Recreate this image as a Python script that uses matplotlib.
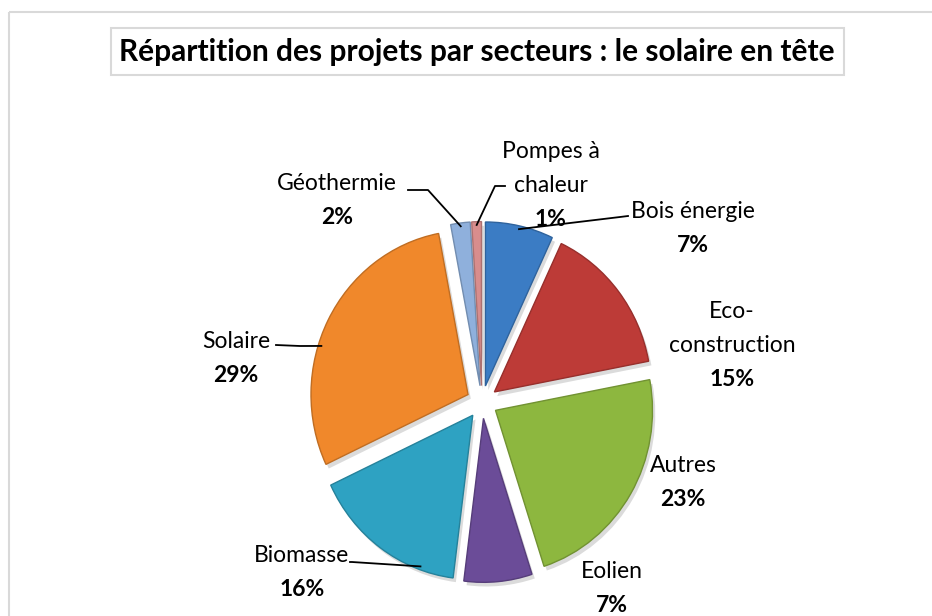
import matplotlib
matplotlib.use("Agg")
import numpy as np
import matplotlib.pyplot as plt
from matplotlib.colors import to_rgb
from matplotlib.patches import Rectangle
import matplotlib.patheffects as pe

plt.rcParams["font.family"] = ["Lato", "DejaVu Sans"]

# data (clockwise from 12 o'clock)
sectors = ["Bois énergie", "Eco-\nconstruction", "Autres", "Eolien",
           "Biomasse", "Solaire", "Géothermie", "Pompes à\nchaleur"]
shares = [7, 15, 23, 7, 16, 29, 2, 1]
colors = ["#3b7cc4", "#bd3b37", "#8db73f", "#6b4c98",
          "#2ea2c2", "#f0882b", "#8fb0dc", "#d88d8d"]

# label layout (pixel positions of label block centres) and leaders
label_pos = [(693, 228), (732, 345), (683, 482), (612, 589),
             (302, 573), (236, 358), (337, 200), (551, 185)]
# where on the wedge the leader starts (0..1 across the wedge) and its elbow/end
leader_t = [0.5, None, None, None, 0.78, 0.59, 0.5, 0.5]
leaders = [((620, 217), (628, 216)), None, None, None,
           ((352, 562), (350, 562)), ((300, 346), (276, 345)),
           ((428, 190), (408, 190)), ((495, 186), (505, 186))]

W, H = 932, 616
fig = plt.figure(figsize=(W / 100, H / 100), dpi=100)

# pie axes, centred on the pie centre, slightly taller than wide
cx, cy, half = 482, 402, 200
rx, ry = 157, 164
ax = fig.add_axes([(cx - half) / W, (H - cy - half) / H, 2 * half / W, 2 * half / H])
edge = [tuple(c * 0.8 for c in to_rgb(col)) for col in colors]
wedges, _ = ax.pie(shares, colors=colors, startangle=90, counterclock=False,
                   explode=[0.1] * len(shares), radius=1.0,
                   wedgeprops=dict(linewidth=1.0))
for w, ec in zip(wedges, edge):
    w.set_edgecolor(ec)
    w.set_path_effects([pe.SimplePatchShadow(offset=(2, -3), shadow_rgbFace="#999999", alpha=0.35),
                        pe.Normal()])
ax.set_xlim(-half / rx, half / rx)
ax.set_ylim(-half / ry, half / ry)
ax.set_aspect("auto")
ax.axis("off")

# overlay in pixel coordinates for frame, title and labels
ov = fig.add_axes([0, 0, 1, 1], zorder=5)
ov.set_xlim(0, W)
ov.set_ylim(H, 0)
ov.axis("off")
ov.patch.set_alpha(0)

ov.add_patch(Rectangle((9, 12), W + 20, H + 20, fill=False, edgecolor="#d9d9d9", linewidth=1.5))
ov.add_patch(Rectangle((111, 28), 733, 47, fill=False, edgecolor="#d9d9d9", linewidth=1.5))
ov.text(477, 52, "Répartition des projets par secteurs : le solaire en tête",
        ha="center", va="center", fontsize=21.5, fontweight="bold", color="black")

to_ov = ov.transData.inverted()
line_h = 34
for w, name, share, (lx, ly), t, lead in zip(wedges, sectors, shares, label_pos, leader_t, leaders):
    nlines = name.count("\n") + 1
    top = ly - nlines * line_h / 2
    for i, part in enumerate(name.split("\n")):
        ov.text(lx, top + i * line_h, part, ha="center", va="center", fontsize=16.5)
    ov.text(lx, top + nlines * line_h, f"{share}%", ha="center", va="center",
            fontsize=16.5, fontweight="bold")
    if lead is not None:
        ang = np.deg2rad(w.theta1 + t * (w.theta2 - w.theta1))
        x0, y0 = w.center
        px, py = ax.transData.transform((x0 + 0.98 * np.cos(ang), y0 + 0.98 * np.sin(ang)))
        sx, sy = to_ov.transform((px, py))
        (ex, ey), (fx, fy) = lead
        ov.plot([sx, ex, fx], [sy, ey, fy], color="black", linewidth=1.3, zorder=6)

fig.savefig("out.png", dpi=100)
